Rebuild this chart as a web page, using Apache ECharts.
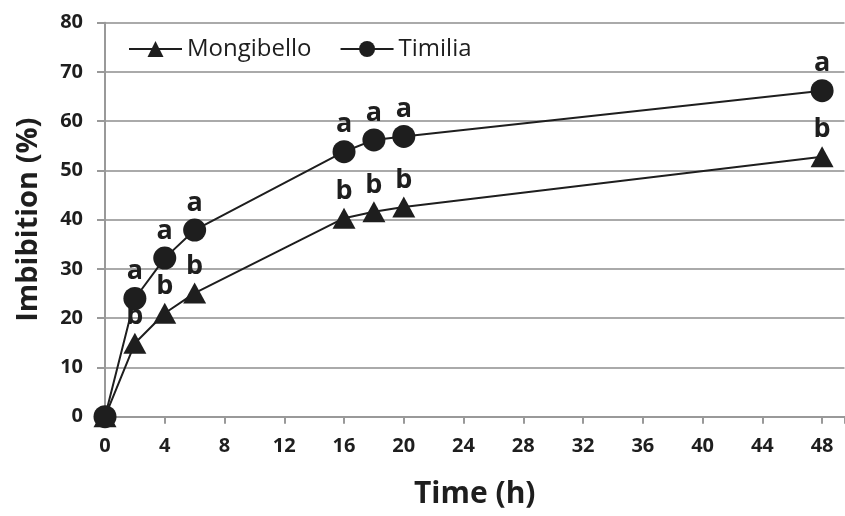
<!DOCTYPE html>
<html><head><meta charset="utf-8">
<script src="https://cdn.jsdelivr.net/npm/echarts@6/dist/echarts.min.js"></script>
<style>html,body{margin:0;padding:0;background:#fff}#c{width:845px;height:516px}</style>
</head><body><div id="c"></div>
<script>
const times = [0, 2, 4, 6, 16, 18, 20, 48];
const mongibello = [0, 14.9, 21, 25.1, 40.3, 41.6, 42.6, 52.8];
const timilia = [0, 24, 32.2, 37.9, 53.8, 56.2, 56.9, 66.2];
const mongibelloLetters = ['', 'b', 'b', 'b', 'b', 'b', 'b', 'b'];
const timiliaLetters = ['', 'a', 'a', 'a', 'a', 'a', 'a', 'a'];
const xTicks = [0, 4, 8, 12, 16, 20, 24, 28, 32, 36, 40, 44, 48];

const FONT = '"Open Sans", Lato, sans-serif';
const INK = '#1e1e1e';

function build(vals, letters) {
  return times.map((t, i) => ({ value: [t, vals[i]], label: { show: letters[i] !== '', formatter: letters[i] } }));
}

const chart = echarts.init(document.getElementById('c'), null, { renderer: 'canvas' });
chart.setOption({
  animation: false,
  backgroundColor: '#fff',
  grid: { left: 105, right: 0.5, top: 22.7, bottom: 99.3, containLabel: false, outerBoundsMode: 'none' },
  legend: {
    left: 123, top: 32,
    itemWidth: 53, itemHeight: 20, itemGap: 28,
    textStyle: { fontFamily: FONT, fontSize: 24, color: INK },
    data: ['Mongibello', 'Timilia']
  },
  xAxis: {
    type: 'value', min: 0, max: 49.5, interval: 4,
    name: 'Time (h)', nameLocation: 'middle', nameGap: 63,
    nameTextStyle: { fontFamily: FONT, fontSize: 30, fontWeight: 'bold', color: INK },
    axisLine: { show: true, lineStyle: { color: '#999', width: 2 } },
    axisTick: { show: true, length: 7, inside: false, lineStyle: { color: '#999', width: 2 } },
    axisLabel: { fontFamily: FONT, fontSize: 20, fontWeight: 'bold', color: INK, margin: 20,
      formatter: v => xTicks.indexOf(v) >= 0 ? String(v) : '' },
    splitLine: { show: false }
  },
  yAxis: {
    type: 'value', min: 0, max: 80, interval: 10,
    name: 'Imbibition (%)', nameLocation: 'middle', nameGap: 62,
    nameTextStyle: { fontFamily: FONT, fontSize: 29, fontWeight: 'bold', color: INK },
    axisLine: { show: true, lineStyle: { color: '#999', width: 2 } },
    axisTick: { show: true, length: 8, inside: false, lineStyle: { color: '#999', width: 2 } },
    axisLabel: { fontFamily: FONT, fontSize: 20, fontWeight: 'bold', color: INK, margin: 22 },
    splitLine: { show: true, lineStyle: { color: '#aaa', width: 2 } }
  },
  series: [
    {
      name: 'Mongibello', type: 'line', data: build(mongibello, mongibelloLetters),
      symbol: 'triangle', symbolSize: [23, 21],
      lineStyle: { color: INK, width: 2 }, itemStyle: { color: INK },
      label: { position: 'top', distance: 3, fontFamily: FONT, fontSize: 27, fontWeight: 'bold', color: INK },
      z: 2
    },
    {
      name: 'Timilia', type: 'line', data: build(timilia, timiliaLetters),
      symbol: 'circle', symbolSize: 23,
      lineStyle: { color: INK, width: 2 }, itemStyle: { color: INK },
      label: { position: 'top', distance: 2, fontFamily: FONT, fontSize: 27, fontWeight: 'bold', color: INK },
      z: 3
    }
  ]
});
</script></body></html>
